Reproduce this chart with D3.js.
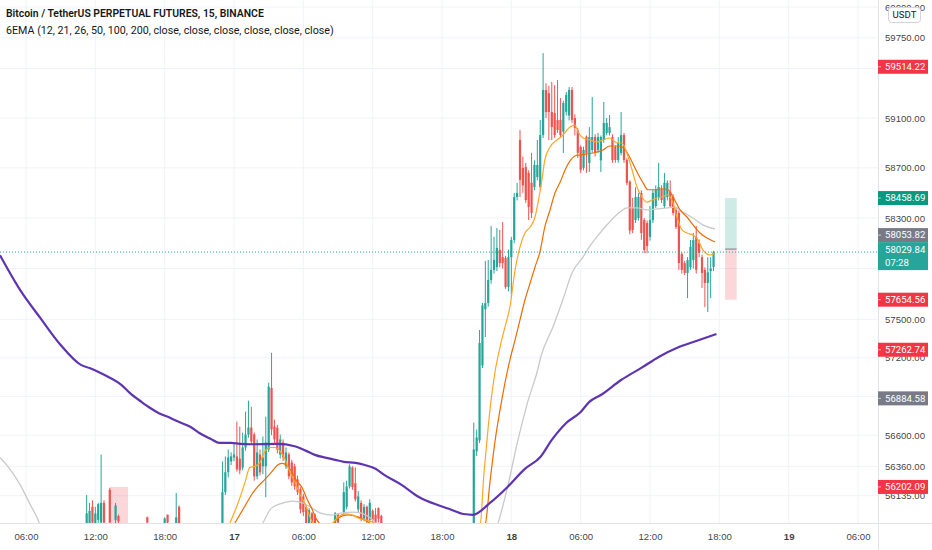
<!DOCTYPE html>
<html><head><meta charset="utf-8">
<script src="https://cdn.jsdelivr.net/npm/d3@7"></script>
<style>
body{margin:0;background:#fff;}
svg{display:block;font-family:Roboto,"Noto Sans",Arial,sans-serif;}
</style></head>
<body><svg id="c" width="932" height="550"></svg>
<script>
// ---------- DATA ----------
// candles: [barIndex (15-min bars from 16th 00:00), open, high, low, close]
const candles = [
[45,55900,56140,55850,56000],[46,55900,56080,55850,56020],[47,56050,56100,55880,55930],
[48,55920,56050,55880,56000],[49,55950,56080,55900,56070],[50,55930,56450,55900,56080],
[51,56080,56100,55900,55930],[53,56180,56195,55900,55930],[55,55950,56080,55900,56060],
[56,55980,55990,55900,55940],[66,55970,55975,55900,55930],[72,55920,55970,55880,55960],
[73,55990,55990,55900,55930],[76,55920,56156,55900,55970],[77,56050,56060,55880,55920],
[92,55925,56398,55900,56162],[93,56162,56436,56140,56315],[94,56315,56490,56275,56428],
[95,56398,56467,56370,56436],[96,56428,56544,56400,56451],[97,56436,56705,56320,56337],
[98,56420,56666,56300,56330],[99,56350,56620,56330,56505],[100,56505,56782,56480,56605],
[101,56605,56867,56580,56659],[102,56659,56820,56530,56551],[103,56605,56620,56250,56283],
[104,56283,56567,56260,56467],[105,56451,56490,56290,56314],[106,56360,56590,56300,56428],
[107,56360,56743,56123,56544],[108,56490,57006,56470,56975],[109,56965,57238,56600,56643],
[110,56666,56720,56540,56567],[111,56659,56680,56460,56490],[112,56451,56605,56420,56567],
[113,56544,56567,56400,56428],[114,56360,56505,56340,56467],[115,56451,56467,56260,56283],
[116,56390,56410,56210,56237],[117,56360,56380,56180,56206],[118,56260,56290,56140,56162],
[119,56185,56200,56000,56030],[120,56130,56150,55980,56010],[121,56050,56060,55900,55920],
[122,55920,56040,55900,56025],[123,56000,56010,55900,55920],[124,55990,56000,55880,55900],
[131,55920,56010,55900,56000],[132,55990,56000,55900,55930],[134,56010,56237,55990,56162],
[135,56050,56250,56030,56206],[136,56206,56375,56190,56360],[137,56352,56360,56180,56200],
[138,56230,56352,56090,56108],[139,56030,56170,56010,56130],[140,56080,56100,55940,55960],
[141,55960,56070,55940,56050],[142,56050,56060,55910,55935],[143,55950,56108,55930,56080],
[144,56020,56030,55920,55950],[145,55990,56040,55910,55930],[146,56040,56045,55930,55960],
[147,55980,55990,55900,55920],
[179,55900,56697,55880,56490],[180,56475,56643,56440,56582],[181,56560,57417,56540,57315],
[182,57140,57630,57120,57610],[183,57580,57960,57362,57628],[184,57628,57967,57600,57810],
[185,57810,58237,57780,57889],[186,57889,58150,57860,57967],[187,57912,58221,57880,58063],
[188,58047,58205,57910,57943],[189,57990,58268,57900,57943],[190,57983,58000,57740,57755],
[191,57755,58050,57720,57990],[192,57990,58150,57667,58126],[193,58126,58500,58100,58467],
[194,58467,58580,58440,58500],[195,58923,59004,58467,58603],[196,58700,58790,58500,58560],
[197,58707,58740,58420,58443],[198,58659,58680,58284,58387],[199,58580,58819,58300,58340],
[200,58547,58760,58520,58723],[201,58627,58923,58600,58723],[202,58547,59084,58520,58963],
[203,58963,59625,58940,59326],[204,59326,59380,59100,59148],[205,59300,59360,58923,59148],
[206,59148,59391,58923,59027],[207,59140,59366,58940,58963],[208,59084,59407,58980,59004],
[209,59084,59261,58940,58963],[210,58990,59240,58819,59221],[211,59150,59310,59120,59286],
[212,59120,59350,59080,59326],[213,59326,59350,59060,59084],[214,59100,59130,58960,59020],
[215,59000,59020,58780,58820],[216,58867,58880,58660,58683],[217,58700,58870,58680,58843],
[218,58950,58960,58660,58819],[219,58740,59027,58667,58947],[220,58843,59269,58820,58947],
[221,58947,58970,58790,58819],[222,58843,58980,58820,58947],[223,58760,58960,58667,58947],
[224,58923,59229,58900,59060],[225,58980,59100,58960,59060],[226,58980,59124,58960,59027],
[227,58947,58970,58740,58763],[228,58867,58880,58740,58763],[229,58763,58947,58740,58900],
[230,58819,59148,58800,58963],[231,58963,58980,58740,58763],[232,58763,58780,58560,58580],
[233,58590,58600,58170,58200],[234,58380,58460,58180,58205],[235,58284,58545,58260,58467],
[236,58300,58500,58280,58467],[237,58500,58520,58126,58180],[238,58284,58300,58023,58047],
[239,58260,58280,58023,58078],[240,58150,58395,58120,58284],[241,58284,58525,58260,58500],
[242,58395,58560,58380,58525],[243,58467,58740,58440,58547],[244,58525,58560,58420,58443],
[245,58395,58659,58380,58580],[246,58467,58600,58440,58580],[247,58508,58600,58380,58395],
[248,58467,58490,58320,58340],[249,58364,58380,58213,58229],[250,58340,58360,57889,57943],
[251,58015,58030,57860,57889],[252,57943,57960,57849,57865],[253,57865,57990,57667,57967],
[254,57912,58126,57890,58071],[255,57967,58181,57900,58126],[256,58150,58237,57860,57889],
[257,58102,58130,57990,58023],[258,57990,58010,57747,57865],[259,57889,57910,57596,57786],
[260,57786,57990,57558,57870],[261,57880,57990,57667,57900],[262,57912,58040,57880,58029.84]
];

// EMA readings: [barIndex, value]
const emaFast = [
[94.6,55927],[97.4,56079],[99.8,56237],[101.5,56352],[103.3,56360],[105,56390],[106.7,56475],
[108.5,56505],[110.2,56505],[112,56475],[113.7,56413],[115.4,56314],[117.1,56237],[118.8,56146],
[120.6,56071],[122.3,55973],[123.3,55927],[125.8,55880],[128,55880],[129.2,55900],[132,55973],
[134.4,55996],[136.8,55989],[138.9,55965],[141.3,55950],[143.8,55935],[146.5,55875],[165,55700],
[181.2,55912],[182.5,56300],[183.5,56544],[184.6,56797],[186.3,57082],[188.1,57284],[189.8,57440],
[191.5,57596],[193.3,57889],[195,58071],[196.7,58181],[198.5,58229],[200.2,58308],[201.2,58419],
[202.6,58603],[203.6,58763],[205.4,58867],[207.8,58923],[209.9,58963],[212.3,59027],[214,59043],
[215.1,58987],[216.8,58939],[219.2,58923],[221.6,58907],[223.7,58923],[226.1,58939],[228.6,58899],
[230.3,58899],[232,58819],[233.8,58683],[235.5,58547],[237.2,58467],[239,58427],[240.7,58443],
[242.4,58459],[244.1,58467],[245.9,58483],[247.6,58443],[249.3,58308],[251.1,58205],[252.8,58181],
[254.9,58165],[256.6,58126],[258.3,58047],[260.8,58007],[262.5,58023]
];
const emaMid = [
[96.3,55927],[99.8,56056],[102.2,56146],[104.3,56206],[106.7,56260],[109.2,56322],[110.9,56367],
[112.6,56383],[114.3,56367],[116.1,56314],[117.8,56245],[119.5,56199],[121.3,56108],[123,56033],
[124.7,55950],[127.5,55900],[130,55910],[132,55965],[135.5,55989],[138.9,55973],[142.4,55935],
[145.8,55875],[165,55700],
[182.9,55912],[184.6,56237],[186.3,56544],[188.1,56797],[189.8,57004],[191.5,57184],[193.3,57339],
[195,57496],[196.7,57652],[198.5,57786],[200.2,57912],[201.9,58031],[203.6,58229],[205.4,58364],
[207.1,58499],[208.8,58580],[210.6,58683],[212.3,58755],[214,58795],[215.8,58803],[220.3,58819],
[223.7,58843],[226.1,58875],[228.6,58875],[230.3,58867],[232,58827],[233.8,58747],[235.5,58667],
[237.6,58580],[239.3,58525],[241.7,58525],[244.1,58532],[246.2,58525],[248,58467],[250.4,58364],
[252.8,58308],[254.9,58245],[257.3,58181],[259.7,58142],[262.5,58110]
];
const emaSlow = [
[15,56428],[18.5,56337],[21.9,56222],[25.4,56070],[28.2,55950],[30.6,55800],
[103,55800],[106,55927],[109,56040],[113,56079],[116,56094],[120,56079],[123,56040],[126,56002],
[130,55987],[133,56002],[137,56010],[140,56002],[144,55950],[147,55875],
[184,55750],[187.2,55912],[190.7,56202],[194.1,56544],[197.6,56852],[201.1,57105],[202.2,57206],
[206.4,57440],[209.8,57652],[213,57865],[216.8,57990],[219,58071],[222.7,58181],[226,58268],
[229.6,58347],[232,58380],[235.5,58380],[239,58364],[242.4,58372],[246,58380],[248.6,58387],
[251.4,58347],[254.9,58300],[258.3,58245],[262.5,58213]
];
const ema200 = [
[15,58005],[22,57730],[29,57510],[36,57300],[43,57145],[46,57120],[50,57080],[53,57045],
[57,56990],[60,56925],[64,56857],[67,56810],[70,56770],[74,56733],[77,56702],[81,56663],
[84,56617],[88,56571],[91,56540],[95,56540],[98,56533],[102,56530],[111,56533],[117,56515],
[121,56479],[124,56448],[128,56425],[131,56410],[134,56395],[138,56387],[141,56372],[145,56341],
[148,56295],[154,56218],[160,56125],[167,56060],[171,56030],[175.5,55995],[178.7,55989],
[184.6,56080],[190.7,56202],[196.5,56337],[202.2,56436],[206,56563],[211,56694],[216,56779],
[219,56857],[223,56911],[230,57027],[237,57121],[243,57206],[250,57284],[257,57339],[263,57386]
];

const priceTicks = [60000,59750,59500,59100,58700,58300,57900,57500,57200,56900,56600,56360,56135];
const timeTicks = [24,48,72,96,120,144,168,192,216,240,264,288,312];
const timeLabels = ["06:00","12:00","18:00","17","06:00","12:00","18:00","18","06:00","12:00","18:00","19","06:00"];

const markerValues = [59514.22, 58458.69, 58053.82, 57654.56, 57262.74, 56884.58, 56202.09];
const markerKinds  = ["down","up","neutral","down","down","neutral","down"];
const lastPrice = 58029.84, countdown = "07:28";

const longTool = {from:266, to:270, entry:58053.82, target:58458.69, stop:57654.56};
const shortTool = {from:53, to:59.3, stop:56202.09, entry:55700};

const title = "Bitcoin / TetherUS PERPETUAL FUTURES, 15, BINANCE";
const legend = "6EMA (12, 21, 26, 50, 100, 200, close, close, close, close, close, close)";

// ---------- DRAW ----------
const UP="#26a69a", DOWN="#ef5350", GRID="#f0f3fa", BORDER="#e0e3eb", TXT="#131722";
const plotR=878, plotB=523, FS=9.6;
const svg=d3.select("#c");
const x=d3.scaleLinear().domain([96,312]).range([234,858]);
const y=d3.scaleLog().domain([56135,60000]).range([495.7,7.1]);

svg.append("defs").append("clipPath").attr("id","clip")
  .append("rect").attr("x",0).attr("y",0).attr("width",plotR).attr("height",plotB);

// grid
const grid=svg.append("g");
grid.selectAll("line.h").data(priceTicks).join("line").attr("class","h")
  .attr("x1",0).attr("x2",plotR).attr("y1",d=>y(d)).attr("y2",d=>y(d)).attr("stroke",GRID);
grid.selectAll("line.v").data(timeTicks).join("line").attr("class","v")
  .attr("x1",d=>x(d)).attr("x2",d=>x(d)).attr("y1",0).attr("y2",plotB).attr("stroke",GRID);

const plot=svg.append("g").attr("clip-path","url(#clip)");

// position tools
plot.append("rect").attr("x",x(shortTool.from)).attr("width",x(shortTool.to)-x(shortTool.from))
  .attr("y",y(shortTool.stop)).attr("height",y(shortTool.entry)-y(shortTool.stop))
  .attr("fill","rgba(242,54,69,0.2)");
plot.append("rect").attr("x",x(longTool.from)).attr("width",x(longTool.to)-x(longTool.from))
  .attr("y",y(longTool.target)).attr("height",y(longTool.entry)-y(longTool.target))
  .attr("fill","rgba(8,153,129,0.2)");
plot.append("rect").attr("x",x(longTool.from)).attr("width",x(longTool.to)-x(longTool.from))
  .attr("y",y(longTool.entry)).attr("height",y(longTool.stop)-y(longTool.entry))
  .attr("fill","rgba(242,54,69,0.2)");
plot.append("line").attr("x1",x(longTool.from)).attr("x2",x(longTool.to))
  .attr("y1",y(longTool.entry)).attr("y2",y(longTool.entry)).attr("stroke","#787b86");

// candles
const col=d=>d[4]>=d[1]?UP:DOWN;
plot.selectAll("line.wick").data(candles).join("line").attr("class","wick")
  .attr("x1",d=>x(d[0])).attr("x2",d=>x(d[0])).attr("y1",d=>y(d[2])).attr("y2",d=>y(d[3]))
  .attr("stroke",col).attr("stroke-width",1);
plot.selectAll("rect.body").data(candles).join("rect").attr("class","body")
  .attr("x",d=>x(d[0])-1.1).attr("width",2.2)
  .attr("y",d=>y(Math.max(d[1],d[4])))
  .attr("height",d=>Math.max(1,Math.abs(y(d[1])-y(d[4]))))
  .attr("fill",col);

// EMAs
const line=d3.line().x(d=>x(d[0])).y(d=>y(d[1])).curve(d3.curveMonotoneX);
plot.append("path").datum(emaSlow).attr("d",line).attr("fill","none").attr("stroke","#c9c9c9").attr("stroke-width",1.3);
plot.append("path").datum(emaMid).attr("d",line).attr("fill","none").attr("stroke","#ef6c00").attr("stroke-width",1.2);
plot.append("path").datum(emaFast).attr("d",line).attr("fill","none").attr("stroke","#ffa726").attr("stroke-width",1.2);
plot.append("path").datum(ema200).attr("d",line).attr("fill","none").attr("stroke","#5e35b1").attr("stroke-width",2.2);

// last price line
plot.append("line").attr("x1",0).attr("x2",plotR).attr("y1",y(lastPrice)).attr("y2",y(lastPrice))
  .attr("stroke",UP).attr("stroke-dasharray","1,2");

// borders
svg.append("line").attr("x1",0).attr("x2",932).attr("y1",plotB+0.5).attr("y2",plotB+0.5).attr("stroke",BORDER);
svg.append("line").attr("x1",plotR+0.5).attr("x2",plotR+0.5).attr("y1",0).attr("y2",550).attr("stroke",BORDER);

// marker label geometry
const kindColor={up:"#089981",down:"#f23645",neutral:"#787b86"};
const lastY=y(lastPrice);
const boxes=markerValues.map((v,i)=>({v,kind:markerKinds[i],cy:y(v)}));
boxes.forEach(b=>{ if(b.kind==="neutral" && Math.abs(b.cy-lastY)<20){ b.cy=lastY-10-7; } });
const covered=t=>{ const ty=y(t);
  return boxes.some(b=>Math.abs(b.cy-ty)<6) || (ty>lastY-10 && ty<lastY+18); };

// price axis (labels hidden where a price label box sits on top of them)
const yAxis=d3.axisRight(y).tickValues(priceTicks.filter(t=>!covered(t)))
  .tickFormat(d3.format(".2f")).tickSize(0).tickPadding(7);
const ya=svg.append("g").attr("transform",`translate(${plotR},0)`).call(yAxis);
ya.select(".domain").remove();
ya.selectAll("text").attr("fill",TXT).attr("font-size",FS).attr("fill-opacity",0.85);

// time axis
const xAxis=d3.axisBottom(x).tickValues(timeTicks).tickFormat((d,i)=>timeLabels[i]).tickSize(0).tickPadding(10);
const xa=svg.append("g").attr("transform",`translate(0,${plotB})`).call(xAxis);
xa.select(".domain").remove();
xa.selectAll("text").attr("fill",TXT).attr("font-size",FS).attr("fill-opacity",0.85)
  .attr("font-weight",(d,i)=>timeLabels[i].length<3?700:400);

// marker labels on price axis
const lab=svg.append("g");
boxes.forEach(b=>{
  lab.append("rect").attr("x",plotR).attr("y",b.cy-7).attr("width",50).attr("height",14).attr("fill",kindColor[b.kind]);
  lab.append("line").attr("x1",plotR).attr("x2",plotR+3).attr("y1",b.cy).attr("y2",b.cy).attr("stroke","#fff").attr("stroke-opacity",0.6);
  lab.append("text").attr("x",plotR+7).attr("y",b.cy).attr("dy","0.35em").attr("fill","#fff")
    .attr("font-size",FS).text(d3.format(".2f")(b.v));
});
lab.append("rect").attr("x",plotR).attr("y",lastY-10).attr("width",50).attr("height",28).attr("fill",UP);
lab.append("text").attr("x",plotR+7).attr("y",lastY-2).attr("dy","0.35em").attr("fill","#fff").attr("font-size",FS).text(d3.format(".2f")(lastPrice));
lab.append("text").attr("x",plotR+7).attr("y",lastY+11).attr("dy","0.35em").attr("fill","#fff").attr("font-size",FS).text(countdown);

// currency box
svg.append("rect").attr("x",888.5).attr("y",7.5).attr("width",32).attr("height",15).attr("rx",3)
  .attr("fill","#fff").attr("stroke","#d1d4dc");
svg.append("text").attr("x",904.5).attr("y",15).attr("dy","0.35em").attr("text-anchor","middle")
  .attr("font-size",9.6).attr("fill",TXT).text("USDT");

// header
svg.append("text").attr("x",6).attr("y",17).attr("font-size",10.4).attr("font-weight",600).attr("fill",TXT).text(title);
svg.append("text").attr("x",6).attr("y",34).attr("font-size",10.7).attr("fill",TXT).text(legend);
</script>
</body></html>
